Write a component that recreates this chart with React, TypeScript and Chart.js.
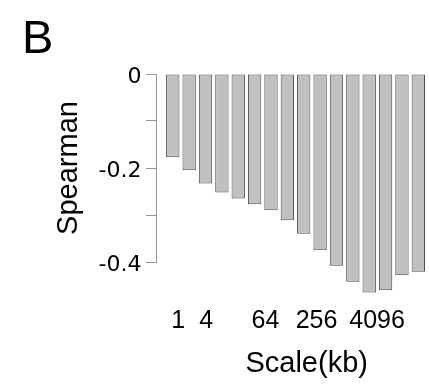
import React, { useEffect, useRef } from "react";
import { Chart, registerables } from "chart.js";

Chart.register(...registerables);

// ---- data ----
const categories = ["1", "2", "4", "8", "16", "32", "64", "128", "256", "512", "1024", "2048", "4096", "8192", "16384", "32768"];
const spearman = [-0.177, -0.205, -0.233, -0.252, -0.265, -0.277, -0.29, -0.311, -0.34, -0.375, -0.408, -0.442, -0.465, -0.46, -0.428, -0.421];
const xTickLabels = ["1", "4", "64", "256", "4096"];
const xTickPositions = [0.33, 2.04, 5.66, 8.78, 12.48];
const yTickValues = [0, -0.1, -0.2, -0.3, -0.4];
const yTickLabels = ["0", "", "-0.2", "", "-0.4"];
const panelLabel = "B";
const xTitle = "Scale(kb)";
const yTitle = "Spearman";

const FONT = "'Liberation Sans', Arial, Helvetica, sans-serif";

const xTitlePlugin = {
  id: "xTitleText",
  afterDraw(chart: any) {
    const { ctx, chartArea } = chart;
    ctx.save();
    ctx.font = `29px ${FONT}`;
    ctx.fillStyle = "#000";
    ctx.textAlign = "center";
    ctx.textBaseline = "middle";
    ctx.fillText(xTitle, chartArea.left + 150.7, chartArea.bottom + 102);
    ctx.restore();
  },
};

export default function App() {
  const ref = useRef<HTMLCanvasElement>(null);
  useEffect(() => {
    document.body.style.margin = "0";
    Chart.defaults.font.family = FONT;
    const chart = new Chart(ref.current as HTMLCanvasElement, {
      type: "bar",
      data: {
        labels: categories,
        datasets: [
          {
            data: spearman.map((v, i) => ({ x: i, y: v })) as any,
            backgroundColor: "#c0c0c0",
            borderColor: "#4d4d4d",
            borderWidth: 1,
            borderSkipped: false,
            barPercentage: 0.816,
            categoryPercentage: 1,
            clip: false as any,
          },
        ],
      },
      options: {
        responsive: false,
        animation: false,
        layout: { padding: { left: 22, right: 2.5, top: 0, bottom: 51 } },
        plugins: {
          legend: { display: false },
          tooltip: { enabled: false },
          title: {
            display: true,
            text: panelLabel,
            align: "start",
            color: "#000",
            font: { size: 47, weight: "normal" as any, family: FONT },
            padding: { top: 11.8, bottom: 5.8 },
          },
        },
        scales: {
          x: {
            type: "linear",
            min: -1.025,
            max: 15.5,
            offset: false,
            afterBuildTicks: (s: any) => {
              s.ticks = xTickPositions.map((v) => ({ value: v }));
            },
            ticks: {
              callback: (_v: any, i: number) => xTickLabels[i],
              font: { size: 25, family: FONT },
              color: "#000",
              padding: 2,
              autoSkip: false,
              maxRotation: 0,
              minRotation: 0,
            },
            grid: { display: false, drawTicks: true, tickLength: 42, offset: false },
            border: { display: false },
          },
          y: {
            type: "linear",
            min: -0.4,
            max: 0,
            afterBuildTicks: (s: any) => {
              s.ticks = yTickValues.map((v) => ({ value: v }));
            },
            afterFit: (s: any) => {
              s.width = 134;
            },
            ticks: {
              callback: (_v: any, i: number) => yTickLabels[i],
              font: { size: 22, family: "'DejaVu Sans', sans-serif" },
              color: "#000",
              padding: 4.5,
              labelOffset: 3,
              autoSkip: false,
            },
            grid: { display: true, drawOnChartArea: false, drawTicks: true, tickLength: 10, color: "#999", lineWidth: 1 },
            border: { display: true, color: "#999", width: 1 },
            title: {
              display: true,
              text: yTitle,
              color: "#000",
              font: { size: 29, family: FONT },
              padding: { top: 29.6, bottom: 0 },
            },
          },
        },
      },
      plugins: [xTitlePlugin],
    });
    return () => chart.destroy();
  }, []);
  return (
    <div style={{ width: 429, height: 389 }}>
      <canvas ref={ref} width={429} height={389} style={{ display: "block" }} />
    </div>
  );
}
